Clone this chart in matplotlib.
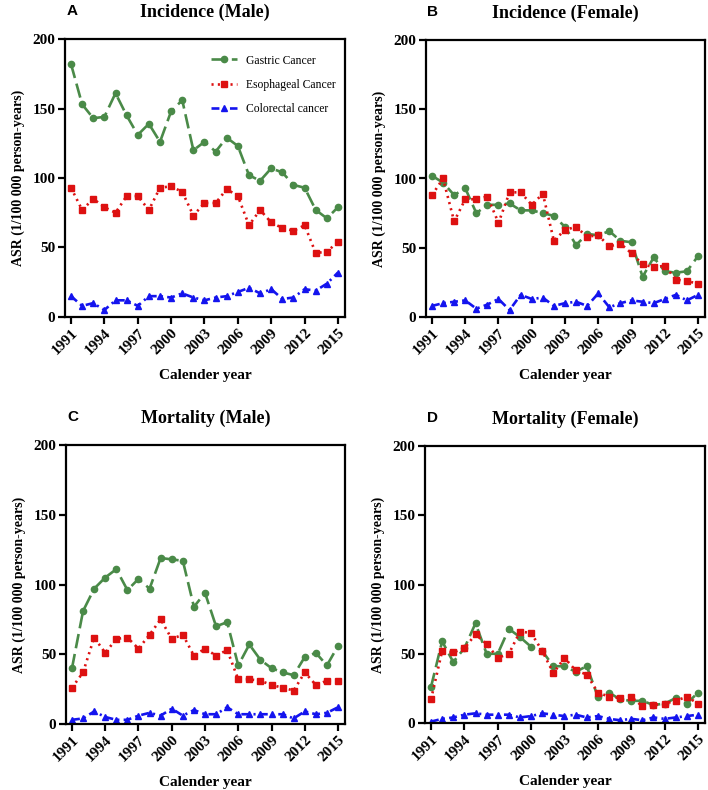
#!/usr/bin/env python3
"""Gastric, esophageal and colorectal cancer ASR trends, 1991-2015."""

import matplotlib
matplotlib.use("Agg")
import matplotlib.pyplot as plt

years = list(range(1991, 2016))

# Incidence (Male)
inc_m_gastric = [182, 153, 143, 144, 161, 145, 131, 139, 126, 148, 156, 120, 126,
                 119, 129, 123, 102, 98, 107, 104, 95, 93, 77, 71, 79]
inc_m_esoph = [93, 77, 85, 79, 75, 87, 87, 77, 93, 94, 90, 73, 82,
               82, 92, 87, 66, 77, 68, 64, 62, 66, 46, 47, 54]
inc_m_colo = [15, 8, 10, 5, 12, 12, 8, 15, 15, 14, 17, 14, 12,
              14, 15, 18, 21, 17, 20, 13, 14, 20, 19, 24, 32]

# Incidence (Female)
inc_f_gastric = [102, 97, 88, 93, 75, 81, 81, 82, 77, 77, 75, 73, 65,
                 52, 60, 59, 62, 55, 54, 29, 43, 33, 32, 33, 44]
inc_f_esoph = [88, 100, 69, 85, 85, 87, 68, 90, 90, 81, 89, 55, 63,
               65, 58, 59, 51, 53, 46, 38, 36, 37, 27, 26, 24]
inc_f_colo = [8, 10, 11, 12, 6, 9, 13, 5, 16, 13, 14, 8, 10,
              11, 8, 17, 7, 10, 12, 11, 10, 13, 16, 12, 16]

# Mortality (Male)
mort_m_gastric = [40, 81, 97, 105, 111, 96, 104, 97, 119, 118, 117, 84, 94,
                  70, 73, 42, 57, 46, 40, 37, 35, 48, 51, 42, 56]
mort_m_esoph = [26, 37, 62, 51, 61, 62, 54, 64, 75, 61, 64, 49, 54,
                49, 53, 32, 32, 31, 28, 26, 24, 37, 28, 31, 31]
mort_m_colo = [3, 4, 9, 5, 3, 3, 6, 8, 6, 11, 6, 10, 7,
               7, 12, 7, 7, 7, 7, 7, 4, 9, 7, 8, 12]

# Mortality (Female)
mort_f_gastric = [26, 59, 44, 54, 72, 50, 50, 68, 62, 55, 52, 41, 41,
                  37, 41, 19, 22, 17, 16, 16, 13, 14, 18, 14, 22]
mort_f_esoph = [17, 52, 51, 54, 64, 57, 47, 50, 66, 65, 52, 36, 47,
                38, 35, 22, 19, 18, 19, 12, 13, 14, 16, 19, 14]
mort_f_colo = [1, 3, 4, 6, 7, 6, 6, 6, 4, 5, 7, 6, 5,
               6, 4, 5, 3, 2, 3, 2, 4, 3, 4, 5, 6]

panels = [
    ("A", "Incidence (Male)", inc_m_gastric, inc_m_esoph, inc_m_colo),
    ("B", "Incidence (Female)", inc_f_gastric, inc_f_esoph, inc_f_colo),
    ("C", "Mortality (Male)", mort_m_gastric, mort_m_esoph, mort_m_colo),
    ("D", "Mortality (Female)", mort_f_gastric, mort_f_esoph, mort_f_colo),
]

W, H = 708, 790
# axes boxes in pixels: left, right, top, bottom
boxes = [(65, 345, 39, 317), (426, 705, 40, 317),
         (66, 345, 445, 724), (425, 705, 446, 723)]

SERIF = "Liberation Serif"
GREEN = "#4a8a48"
RED = "#dd1111"
BLUE = "#1414ee"

fig = plt.figure(figsize=(W / 100, H / 100), dpi=100)

for (letter, title, gastric, esoph, colo), (l, r, t, b) in zip(panels, boxes):
    ax = fig.add_axes([l / W, 1 - b / H, (r - l) / W, (b - t) / H])
    ax.plot(years, gastric, color=GREEN, linewidth=1.9, dashes=(5.5, 2.2),
            marker="o", markersize=4.5, label="Gastric Cancer")
    ax.plot(years, esoph, color=RED, linewidth=1.9, dashes=(0.8, 1.6),
            marker="s", markersize=4.6, label="Esophageal Cancer")
    ax.plot(years, colo, color=BLUE, linewidth=1.9, dashes=(3, 1.6, 0.8, 1.6),
            marker="^", markersize=4.5, label="Colorectal cancer")

    ax.set_xlim(1990.46, 2015.63)
    ax.set_ylim(0, 200)
    ax.set_xticks(range(1991, 2016, 3))
    ax.set_yticks(range(0, 201, 50))
    for spine in ax.spines.values():
        spine.set_linewidth(1.6)
    ax.tick_params(direction="out", length=5, width=1.6, labelsize=11, pad=2)
    for lab in ax.get_xticklabels():
        lab.set_rotation(45)
        lab.set_ha("right")
        lab.set_rotation_mode("anchor")
    for lab in ax.get_xticklabels() + ax.get_yticklabels():
        lab.set_fontfamily(SERIF)
        lab.set_fontweight("bold")

    ax.set_xlabel("Calender year", fontfamily=SERIF, fontweight="bold",
                  fontsize=11, labelpad=8)
    ax.set_ylabel("ASR (1/100 000 person-years)", fontfamily=SERIF,
                  fontweight="bold", fontsize=10, labelpad=5)

    cx = (l + r) / 2
    fig.text(cx / W, 1 - (t - 27) / H, title, ha="center", va="center",
             fontfamily=SERIF, fontweight="bold", fontsize=13)
    fig.text((l + 7) / W, 1 - (t - 28) / H, letter, ha="center", va="center",
             fontfamily="Liberation Sans", fontweight="bold", fontsize=11)

    if letter == "A":
        ax.legend(loc="upper left", bbox_to_anchor=(0.5, 0.965), frameon=False,
                  borderpad=0, handlelength=2.2, handletextpad=0.8,
                  labelspacing=1.05, prop={"family": SERIF, "size": 8.4})

fig.savefig("out.png", dpi=100)
